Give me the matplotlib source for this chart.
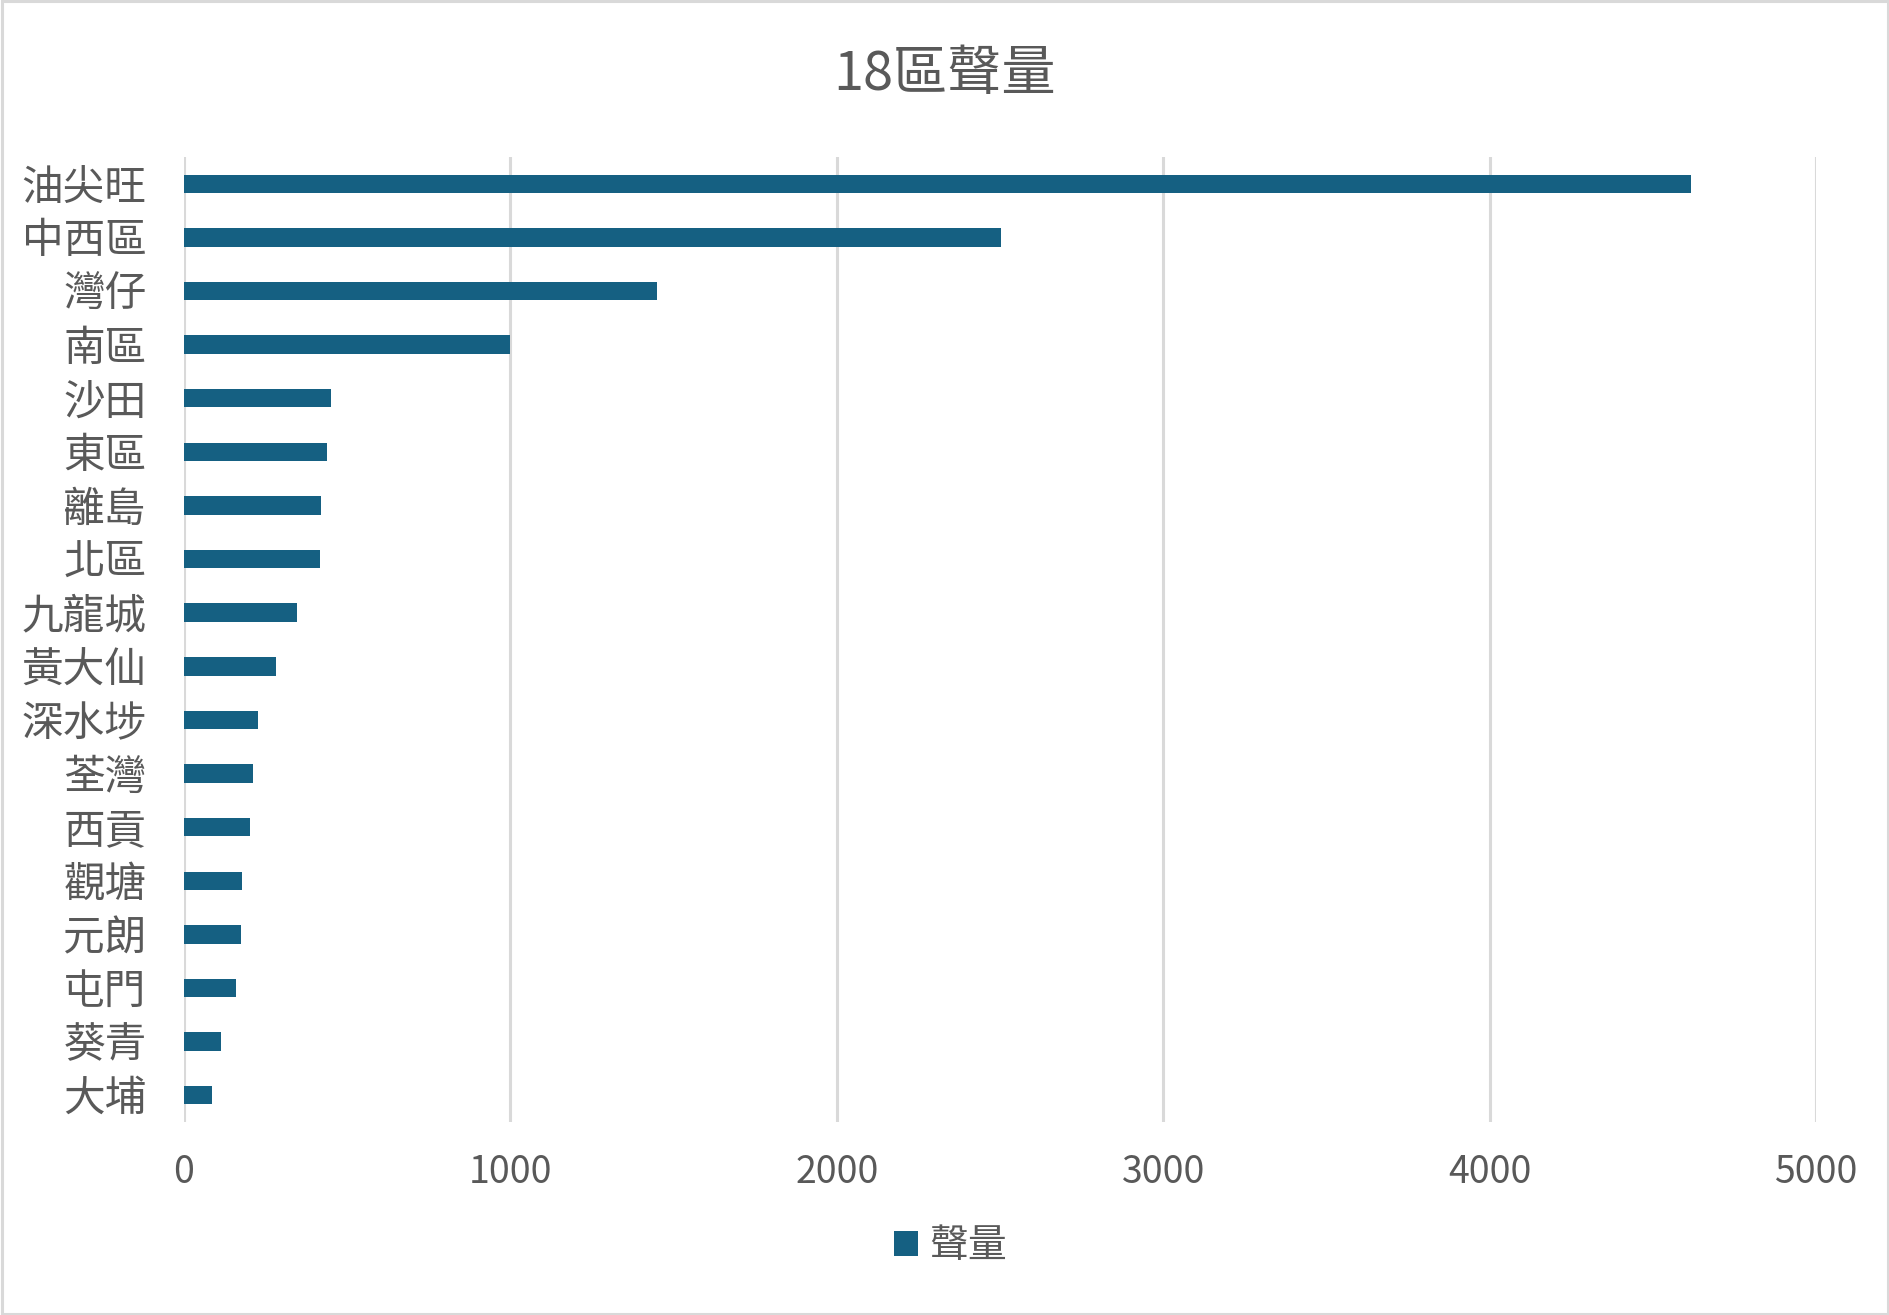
import matplotlib
matplotlib.use("Agg")
import matplotlib.pyplot as plt
from matplotlib.patches import Rectangle

plt.rcParams['font.family'] = ['Noto Sans CJK TC', 'DejaVu Sans']

districts = ["油尖旺", "中西區", "灣仔", "南區", "沙田", "東區", "離島", "北區", "九龍城",
             "黃大仙", "深水埗", "荃灣", "西貢", "觀塘", "元朗", "屯門", "葵青", "大埔"]
volume = [4617, 2503, 1450, 1000, 449, 437, 419, 416, 345,
          281, 228, 210, 201, 179, 176, 158, 112, 87]
x_ticks = [0, 1000, 2000, 3000, 4000, 5000]
title = "18區聲量"
series_name = "聲量"

BAR = "#156082"
GRID = "#D9D9D9"
TXT = "#595959"

fig = plt.figure(figsize=(18.9, 13.15), dpi=100)
fig.patch.set_facecolor("white")
fig.patches.append(Rectangle((0.001, 0.001), 0.998, 0.998, transform=fig.transFigure,
                             fill=False, edgecolor=GRID, linewidth=2.2))

ax = fig.add_axes([184/1890, 1-1122/1315, (1816-184)/1890, (1122-157)/1315])
y = list(range(len(districts)))
ax.barh(y, volume, height=0.345, color=BAR, label=series_name, zorder=3)
ax.set_ylim(len(districts)-0.5, -0.5)
ax.set_xlim(0, 5000)
ax.set_yticks(y)
ax.set_yticklabels(districts, fontsize=30, color=TXT, fontweight='light')
ax.set_xticks(x_ticks)
ax.set_xticklabels([str(v) for v in x_ticks], fontsize=27, color=TXT, fontweight='light')
ax.tick_params(axis='y', length=0, pad=27)
ax.tick_params(axis='x', length=0, pad=22)
for s in ax.spines.values():
    s.set_visible(False)
ax.grid(axis='x', color=GRID, linewidth=2.2, zorder=0)
ax.set_axisbelow(True)

fig.text(0.5, 1-74/1315, title, ha='center', va='center', fontsize=39, color=TXT,
         fontweight='light')

leg = fig.legend(loc='center', bbox_to_anchor=(0.503, 1-1246/1315), frameon=False,
                 prop={'size': 28, 'weight': 'light'},
                 handlelength=0.6, handleheight=0.6, handletextpad=0.3)
for t in leg.get_texts():
    t.set_color(TXT)

fig.savefig("out.png", dpi=100, facecolor="white")
